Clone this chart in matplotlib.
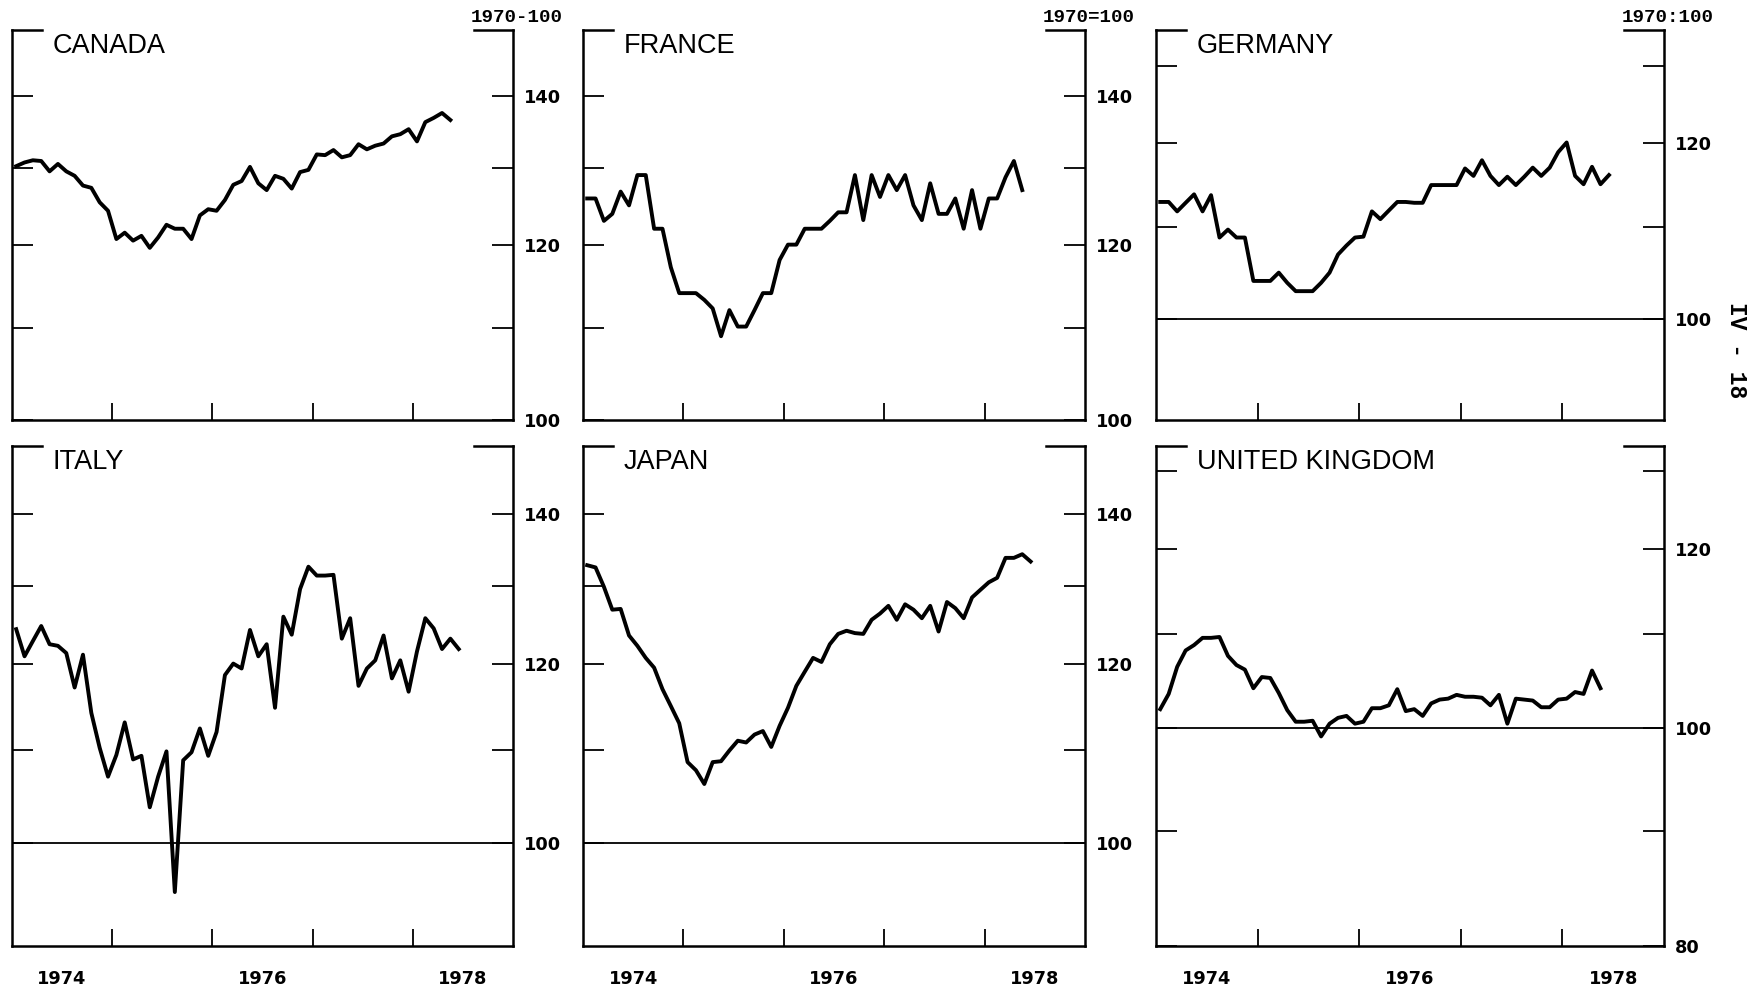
import numpy as np
import matplotlib
matplotlib.use("Agg")
from matplotlib import pyplot as plt
from matplotlib.ticker import FixedLocator, FixedFormatter, NullLocator

plt.rcParams['font.family'] = ['DejaVu Sans']
plt.rcParams['font.weight'] = 'bold'

# monthly index values, 1970=100, starting Jan 1974
canada = [130.2, 130.7, 131.0, 130.9, 129.5, 130.5, 129.5, 128.9, 127.6, 127.3,
          125.4, 124.3, 120.7, 121.5, 120.5, 121.1, 119.6, 120.9, 122.5, 122.0,
          122.0, 120.7, 123.7, 124.5, 124.3, 125.7, 127.7, 128.2, 130.1, 127.9,
          127.0, 128.9, 128.5, 127.2, 129.4, 129.7, 131.8, 131.7, 132.4, 131.4,
          131.7, 133.2, 132.5, 133.0, 133.3, 134.3, 134.6, 135.3, 133.6, 136.3,
          136.9, 137.6, 136.6]
france = [125.9, 125.9, 123.0, 123.9, 126.8, 125.0, 129.0, 129.0, 122.0, 122.0,
          117.2, 114.1, 114.1, 114.1, 113.3, 112.3, 109.1, 112.1, 110.2, 110.2,
          112.1, 114.1, 114.1, 118.1, 120.0, 120.0, 122.0, 122.0, 122.0, 123.0,
          124.1, 124.1, 129.0, 123.1, 129.0, 126.1, 129.0, 127.0, 129.0, 125.0,
          123.1, 127.9, 123.9, 123.9, 125.9, 122.0, 127.0, 122.0, 125.9, 125.9,
          128.7, 130.9, 127.0]
germany = [112.9, 112.9, 111.8, 112.8, 113.8, 111.8, 113.7, 108.8, 109.7, 108.8,
           108.8, 104.0, 104.0, 104.0, 104.9, 103.8, 102.9, 102.9, 102.9, 103.8,
           104.9, 106.9, 107.9, 108.8, 108.9, 111.8, 110.9, 111.9, 112.9, 112.9,
           112.8, 112.8, 114.9, 114.9, 114.9, 114.9, 116.9, 116.0, 117.9, 116.0,
           114.9, 115.9, 114.9, 115.9, 117.0, 116.0, 117.0, 118.9, 120.1, 116.0,
           115.0, 117.1, 115.0, 116.1]
italy = [124.4, 121.0, 122.9, 124.8, 122.5, 122.3, 121.4, 117.2, 121.2, 114.2,
         110.2, 107.0, 109.4, 113.1, 108.9, 109.3, 103.7, 107.0, 109.8, 95.1,
         108.8, 109.7, 112.4, 109.3, 112.0, 118.7, 120.1, 119.5, 124.3, 121.0,
         122.5, 114.8, 126.0, 123.7, 129.6, 132.6, 131.4, 131.4, 131.5, 123.2,
         125.8, 117.4, 119.5, 120.5, 123.6, 118.3, 120.5, 116.7, 121.6, 125.8,
         124.5, 121.9, 123.2, 121.9]
japan = [132.8, 132.5, 129.9, 126.9, 127.0, 123.6, 122.3, 120.8, 119.6, 117.0,
         115.0, 113.0, 108.6, 107.7, 106.2, 108.6, 108.7, 109.9, 111.0, 110.8,
         111.7, 112.1, 110.3, 112.7, 114.8, 117.4, 119.1, 120.8, 120.3, 122.5,
         123.8, 124.2, 123.9, 123.8, 125.6, 126.4, 127.4, 125.6, 127.6, 126.9,
         125.8, 127.4, 124.1, 127.9, 127.1, 125.8, 128.5, 129.5, 130.5, 131.1,
         133.8, 133.8, 134.3, 133.3]
uk = [101.9, 103.5, 106.4, 108.2, 108.8, 109.6, 109.6, 109.7, 107.6, 106.6,
      106.1, 104.1, 105.3, 105.2, 103.6, 101.8, 100.6, 100.6, 100.7, 99.1,
      100.4, 101.0, 101.2, 100.4, 100.6, 102.0, 102.0, 102.3, 104.0, 101.7,
      101.9, 101.2, 102.5, 102.9, 103.0, 103.4, 103.2, 103.2, 103.1, 102.3,
      103.4, 100.4, 103.0, 102.9, 102.8, 102.1, 102.1, 102.9, 103.0, 103.7,
      103.5, 106.0, 104.1]

countries = ["CANADA", "FRANCE", "GERMANY", "ITALY", "JAPAN", "UNITED KINGDOM"]
series = [canada, france, germany, italy, japan, uk]
y_limits = [(100, 150), (100, 150), (90, 135), (90, 150), (90, 150), (80, 400 / 3)]
y_ticks = [[100, 110, 120, 130, 140], [100, 110, 120, 130, 140], [100, 110, 120, 130],
           [100, 110, 120, 130, 140], [100, 110, 120, 130, 140], [80, 90, 100, 110, 120, 130]]
y_labelled = [[100, 120, 140], [100, 120, 140], [100, 120],
              [100, 120, 140], [100, 120, 140], [80, 100, 120]]
base_line = [False, False, True, True, True, True]
base_text = ["1970-100", "1970=100", "1970:100"]
year_ticks = [1975, 1976, 1977, 1978]
year_labels = ["1974", "1976", "1978"]

# panel frame in pixels
W, H = 1761, 989
col_left = [12, 583, 1156]
col_right = [513, 1085, 1664]
row_top = [30, 446]
row_bottom = [420, 946]

fig = plt.figure(figsize=(W / 100, H / 100), dpi=100)

for k, (name, vals) in enumerate(zip(countries, series)):
    row, col = divmod(k, 3)
    l, r = col_left[col], col_right[col]
    t, b = row_top[row], row_bottom[row]
    ax = fig.add_axes([l / W, 1 - b / H, (r - l) / W, (b - t) / H])

    x = 1974 + (np.arange(len(vals)) + 0.5) / 12
    ax.plot(x, vals, color='black', lw=2.8, solid_joinstyle='round')
    if base_line[k]:
        ax.axhline(100, color='black', lw=1.3)

    ax.set_yscale('log')
    ax.set_ylim(*y_limits[k])
    ax.set_xlim(1974, 1979)

    ax.yaxis.set_major_locator(FixedLocator(y_ticks[k]))
    ax.yaxis.set_major_formatter(FixedFormatter(
        [str(v) if v in y_labelled[k] else '' for v in y_ticks[k]]))
    ax.yaxis.set_minor_locator(NullLocator())
    ax.tick_params(axis='y', which='major', direction='in', left=True, right=True,
                   labelleft=False, labelright=True, length=15, width=1.3,
                   pad=8, labelsize=12.8)

    ax.set_xticks(year_ticks)
    ax.tick_params(axis='x', which='major', direction='in', length=12, width=1.3,
                   labelbottom=False)
    if row == 1:
        ax.set_xticks([1974.5, 1976.5, 1978.5], minor=True)
        ax.set_xticklabels(year_labels, minor=True)
        ax.tick_params(axis='x', which='minor', length=0, pad=17, labelsize=12.8)
    else:
        ax.xaxis.set_minor_locator(NullLocator())

    ax.spines['top'].set_visible(False)
    for s in ['left', 'right', 'bottom']:
        ax.spines[s].set_linewidth(1.8)
    # short corner pieces of the top frame
    ax.plot([0, 0.06], [1, 1], transform=ax.transAxes, color='black', lw=1.8,
            clip_on=False, solid_capstyle='projecting')
    ax.plot([0.922, 1], [1, 1], transform=ax.transAxes, color='black', lw=1.8,
            clip_on=False, solid_capstyle='projecting')

    ax.annotate(name, xy=(0, 1), xycoords='axes fraction', xytext=(29.5, -2),
                textcoords='offset points', ha='left', va='top',
                family='Liberation Sans', weight='normal', fontsize=19.5)
    if row == 0:
        ax.annotate(base_text[col], xy=(1, 1), xycoords='axes fraction',
                    xytext=(2.5, 9), textcoords='offset points', ha='center',
                    va='center', family='Liberation Mono', weight='bold',
                    fontsize=13.8)

fig.text(1737 / W, 1 - 350 / H, "IV - 18", rotation=-90, ha='center', va='center',
         family='Liberation Mono', weight='bold', fontsize=16.5)

fig.savefig("out.png", dpi=100, facecolor='white')
